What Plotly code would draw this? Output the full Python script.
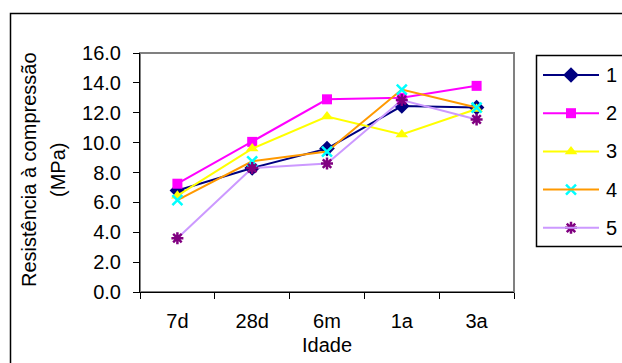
import plotly.graph_objects as go

categories = ["7d", "28d", "6m", "1a", "3a"]
series_names = ["1", "2", "3", "4", "5"]
s1 = [6.8, 8.3, 9.6, 12.45, 12.35]
s2 = [7.25, 10.05, 12.9, 13.0, 13.8]
s3 = [6.45, 9.6, 11.75, 10.55, 12.25]
s4 = [6.15, 8.75, 9.4, 13.55, 12.35]
s5 = [3.6, 8.3, 8.6, 12.85, 11.55]
y_ticks = [0, 2, 4, 6, 8, 10, 12, 14, 16]

W, H = 622, 363
L, R, T, B = 140, 514, 53, 292


def px(x):
    return x / W


def py(y):
    return 1 - y / H


FONT = "Liberation Sans, Arial, sans-serif"
FS = 20

line_styles = [
    dict(color="#000080", width=2),
    dict(color="#FF00FF", width=2),
    dict(color="#FFFF00", width=2),
    dict(color="#FF9900", width=2),
    dict(color="#CC99FF", width=2),
]
marker_styles = [
    dict(symbol="diamond", size=12, color="#000080"),
    dict(symbol="square", size=10, color="#FF00FF"),
    dict(symbol="triangle-up", size=11, color="#FFFF00"),
    dict(symbol="x-thin", size=10, color="#00FFFF", line=dict(color="#00FFFF", width=2.5)),
    dict(symbol="asterisk", size=10, color="#800080", line=dict(color="#800080", width=2.5)),
]

fig = go.Figure()
for name, vals, ls, ms in zip(series_names, [s1, s2, s3, s4, s5], line_styles, marker_styles):
    fig.add_trace(go.Scatter(x=categories, y=vals, name=name, mode="lines+markers",
                             line=ls, marker=ms, showlegend=False))

# manual legend drawn in a full-page pixel-space overlay
LEG_X0, LEG_X1, LEG_MX, LEG_TX = 543, 599, 571, 604
LEG_Y0, LEG_DY = 75, 38.2
shapes = [
    dict(type="rect", xref="paper", yref="paper", x0=px(L), x1=px(R), y0=py(B), y1=py(T),
         line=dict(color="#808080", width=2), layer="below"),
    dict(type="rect", xref="paper", yref="paper", x0=px(10.5), x1=px(640),
         y0=py(13.5), y1=py(380), line=dict(color="black", width=1.5)),
    dict(type="rect", xref="paper", yref="paper", x0=px(536.5), x1=px(640),
         y0=py(55.5), y1=py(246.5), line=dict(color="black", width=1.5)),
]
annotations = [
    dict(text="Resistência à compressão", xref="paper", yref="paper",
         x=px(29), y=py(170), textangle=-90, showarrow=False,
         xanchor="center", yanchor="middle", font=dict(size=FS)),
    dict(text="(MPa)", xref="paper", yref="paper",
         x=px(58), y=py(170), textangle=-90, showarrow=False,
         xanchor="center", yanchor="middle", font=dict(size=FS)),
    dict(text="Idade", xref="paper", yref="paper",
         x=px((L + R) / 2), y=py(345), showarrow=False,
         xanchor="center", yanchor="middle", font=dict(size=FS)),
]
for i, (name, ls, ms) in enumerate(zip(series_names, line_styles, marker_styles)):
    yy = LEG_Y0 + LEG_DY * i
    shapes.append(dict(type="line", xref="paper", yref="paper",
                       x0=px(LEG_X0), x1=px(LEG_X1), y0=py(yy), y1=py(yy),
                       line=ls))
    fig.add_trace(go.Scatter(x=[LEG_MX], y=[yy], xaxis="x2", yaxis="y2",
                             mode="markers", marker=ms, cliponaxis=False,
                             showlegend=False, hoverinfo="skip"))
    annotations.append(dict(text=name, xref="paper", yref="paper",
                            x=px(LEG_TX), y=py(yy), showarrow=False,
                            xanchor="left", yanchor="middle", font=dict(size=FS)))

fig.update_layout(
    template="none",
    width=W, height=H,
    margin=dict(l=0, r=0, t=0, b=0, pad=0),
    paper_bgcolor="white", plot_bgcolor="rgba(0,0,0,0)",
    font=dict(family=FONT, size=FS, color="black"),
    showlegend=False,
    xaxis=dict(domain=[px(L), px(R)], type="category", tickson="boundaries",
               ticks="outside", ticklen=6, anchor="y", automargin=False,
               tickcolor="black", showline=True, linecolor="black", linewidth=1,
               showgrid=False, zeroline=False, ticklabelstandoff=11,
               range=[-0.5, 4.5]),
    yaxis=dict(domain=[py(B), py(T)], anchor="x", range=[0, 16], tickvals=y_ticks,
               tickformat=".1f", ticks="outside", automargin=False,
               ticklen=6, tickcolor="black", showline=True, linecolor="black",
               linewidth=1, showgrid=False, zeroline=False, ticklabelstandoff=8),
    xaxis2=dict(domain=[0, 1], anchor="y2", range=[0, W], visible=False,
                fixedrange=True, automargin=False),
    yaxis2=dict(domain=[0, 1], anchor="x2", range=[H, 0], visible=False,
                fixedrange=True, automargin=False),
    shapes=shapes,
    annotations=annotations,
)

fig.write_html("out.html")
